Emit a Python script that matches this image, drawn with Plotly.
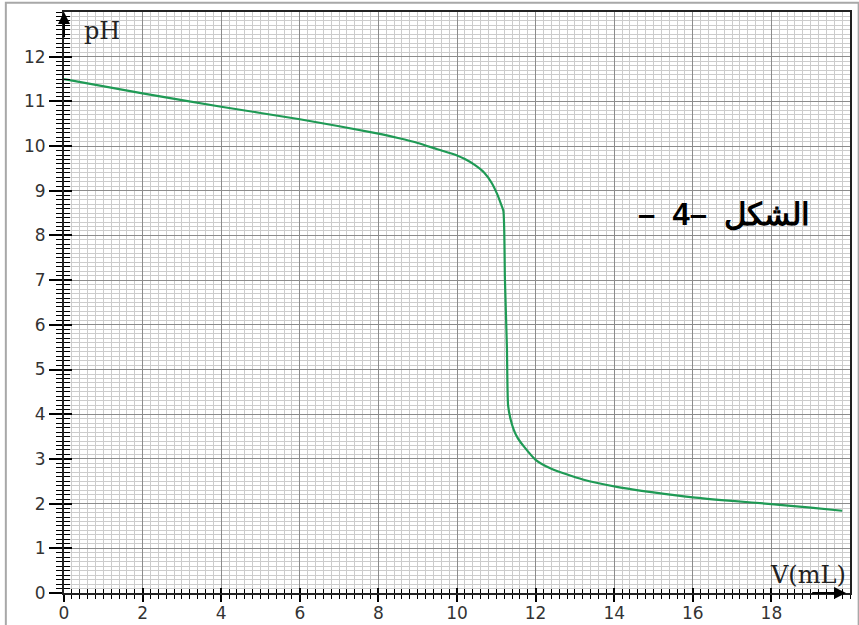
import plotly.graph_objects as go

# Titration curve
volume_ml = [0, 2, 4, 6, 8, 8.5, 9, 9.5, 10, 10.2, 10.45, 10.7, 10.88, 11.02,
             11.12, 11.18, 11.22, 11.27, 11.3, 11.36, 11.45, 11.55, 11.7,
             12.0, 12.4, 13.2, 14.1, 15.0, 16.0, 17.0, 18.0, 19.0, 19.8]
ph_values = [11.5, 11.18, 10.88, 10.6, 10.28, 10.18, 10.07, 9.93, 9.79, 9.71,
             9.58, 9.4, 9.18, 8.93, 8.7, 8.55, 7.0, 5.5, 4.2, 3.9, 3.64,
             3.46, 3.28, 2.98, 2.78, 2.54, 2.37, 2.25, 2.14, 2.06, 1.99,
             1.91, 1.84]

x_tick_vals = [0, 2, 4, 6, 8, 10, 12, 14, 16, 18]
y_tick_vals = list(range(0, 13))

x_label = "V(mL)"
y_label = "pH"
figure_caption = "–\u00a0 4–\u200e\u00a0 الشكل"

X_MAX, Y_MAX = 20, 13
tick_font = dict(family="DejaVu Sans", size=17, color="#333333")

fig = go.Figure()
fig.add_trace(go.Scatter(
    x=volume_ml, y=ph_values, mode="lines",
    line=dict(color="#1f9a55", width=2.2, shape="spline", smoothing=0.6),
    hoverinfo="skip", showlegend=False,
))
# helper trace so the overlay axes (inside ticks) are drawn
fig.add_trace(go.Scatter(
    x=[0], y=[0], xaxis="x2", yaxis="y2", mode="markers",
    marker=dict(opacity=0), hoverinfo="skip", showlegend=False,
))

fig.update_layout(
    width=859, height=625,
    margin=dict(l=64, r=9, t=12, b=32, autoexpand=False),
    paper_bgcolor="white", plot_bgcolor="white",
    xaxis=dict(
        range=[0, X_MAX], tickvals=x_tick_vals, ticks="outside", ticklen=7,
        tickwidth=1.5, tickcolor="black", tickfont=tick_font,
        ticklabelstandoff=-3,
        showline=True, linecolor="#222222", linewidth=2, mirror=True,
        showgrid=True, gridcolor="#8c8c8c", gridwidth=1, zeroline=False,
        automargin=False,
        minor=dict(dtick=0.2, tick0=0, ticks="outside", ticklen=4,
                   tickwidth=1.3, tickcolor="black",
                   showgrid=True, gridcolor="#cccccc", gridwidth=1),
        fixedrange=True,
    ),
    yaxis=dict(
        range=[0, Y_MAX], tickvals=y_tick_vals, ticks="outside", ticklen=13,
        tickwidth=1.5, tickcolor="black", tickfont=tick_font,
        showline=True, linecolor="#222222", linewidth=2, mirror=True,
        showgrid=True, gridcolor="#8c8c8c", gridwidth=1, zeroline=False,
        automargin=False,
        minor=dict(dtick=0.1, tick0=0, ticks="outside", ticklen=6,
                   tickwidth=1.3, tickcolor="black",
                   showgrid=True, gridcolor="#cccccc", gridwidth=1),
        fixedrange=True,
    ),
    xaxis2=dict(
        overlaying="x", anchor="y2", side="bottom", range=[0, X_MAX],
        tickvals=x_tick_vals, ticks="inside", ticklen=5, tickwidth=1.5,
        tickcolor="black", showticklabels=False, showgrid=False,
        showline=False, zeroline=False, automargin=False,
        minor=dict(dtick=0.2, tick0=0, ticks="inside", ticklen=4,
                   tickwidth=1.3, tickcolor="black", showgrid=False),
        fixedrange=True,
    ),
    yaxis2=dict(
        overlaying="y", anchor="x2", side="left", range=[0, Y_MAX],
        tickvals=y_tick_vals, ticks="inside", ticklen=8, tickwidth=1.5,
        tickcolor="black", showticklabels=False, showgrid=False,
        showline=False, zeroline=False, automargin=False,
        minor=dict(dtick=0.1, tick0=0, ticks="inside", ticklen=6,
                   tickwidth=1.3, tickcolor="black", showgrid=False),
        fixedrange=True,
    ),
    showlegend=False,
)

# axis arrows
fig.add_annotation(x=0, y=Y_MAX, ax=0, ay=Y_MAX - 0.6, xref="x", yref="y",
                   axref="x", ayref="y", showarrow=True, arrowhead=2,
                   arrowsize=1.2, arrowwidth=2, arrowcolor="black", text="",
                   standoff=0, startstandoff=0)
fig.add_annotation(x=19.9, y=0, ax=19.0, ay=0, xref="x", yref="y",
                   axref="x", ayref="y", showarrow=True, arrowhead=2,
                   arrowsize=1.2, arrowwidth=2, arrowcolor="black", text="",
                   standoff=0, startstandoff=0)

# axis labels
fig.add_annotation(x=0.45, y=12.57, text=y_label, showarrow=False,
                   xanchor="left", yanchor="middle",
                   font=dict(family="DejaVu Serif", size=24, color="#222222"))
fig.add_annotation(x=19.95, y=0.4, text=x_label, showarrow=False,
                   xanchor="right", yanchor="middle",
                   font=dict(family="DejaVu Serif", size=24, color="#222222"))

# caption
fig.add_annotation(x=16.8, y=8.47, text="<b>" + figure_caption + "</b>",
                   showarrow=False, xanchor="center", yanchor="middle",
                   font=dict(family="Liberation Sans", size=31, color="black"))

# outer frame of the picture
fig.add_shape(type="rect", xref="paper", yref="paper",
              x0=-0.074, x1=1.011, y0=-0.2, y1=1.016,
              line=dict(color="#a8a8a8", width=2), layer="below")

# the page is photographed from its top-left corner: drop the default body margin
fig.write_html("out.html", config={"displayModeBar": False},
               post_script="document.body.style.margin='0';")
